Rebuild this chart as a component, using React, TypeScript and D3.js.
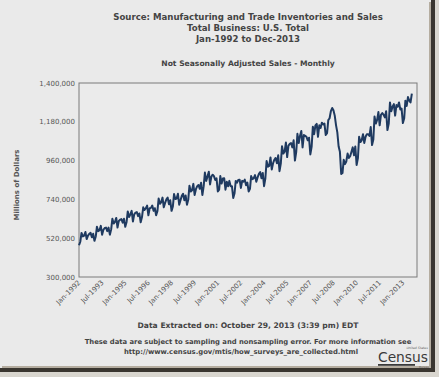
import React from "react";
import * as d3 from "d3";

// Total business sales, not seasonally adjusted, millions of dollars (Jan-1992 .. Aug-2013)
const sales1992 = [480000, 500000, 550000, 530000, 535000, 555000, 515000, 535000, 545000, 550000, 525000, 545000];
const sales1993 = [505000, 530000, 585000, 560000, 565000, 590000, 540000, 568000, 578000, 580000, 560000, 580000];
const sales1994 = [540000, 570000, 630000, 603000, 612000, 635000, 580000, 618000, 625000, 628000, 608000, 630000];
const sales1995 = [585000, 612000, 672000, 640000, 655000, 675000, 615000, 655000, 665000, 668000, 645000, 660000];
const sales1996 = [610000, 640000, 695000, 680000, 690000, 705000, 650000, 690000, 692000, 705000, 675000, 690000];
const sales1997 = [650000, 675000, 745000, 715000, 725000, 750000, 695000, 720000, 740000, 750000, 712000, 735000];
const sales1998 = [675000, 700000, 770000, 742000, 745000, 772000, 710000, 735000, 760000, 772000, 735000, 762000];
const sales1999 = [710000, 740000, 818000, 785000, 792000, 828000, 765000, 798000, 815000, 822000, 800000, 835000];
const sales2000 = [765000, 815000, 892000, 845000, 870000, 897000, 825000, 870000, 880000, 872000, 850000, 860000];
const sales2001 = [785000, 795000, 872000, 830000, 858000, 860000, 795000, 840000, 815000, 845000, 815000, 815000];
const sales2002 = [748000, 775000, 845000, 835000, 850000, 852000, 805000, 845000, 840000, 852000, 820000, 835000];
const sales2003 = [785000, 800000, 872000, 855000, 860000, 878000, 840000, 865000, 885000, 895000, 860000, 890000];
const sales2004 = [815000, 860000, 958000, 925000, 930000, 978000, 910000, 945000, 965000, 975000, 945000, 990000];
const sales2005 = [900000, 945000, 1042000, 1000000, 1010000, 1062000, 980000, 1045000, 1055000, 1060000, 1035000, 1075000];
const sales2006 = [960000, 1010000, 1112000, 1060000, 1100000, 1128000, 1035000, 1105000, 1100000, 1095000, 1075000, 1090000];
const sales2007 = [995000, 1040000, 1152000, 1110000, 1160000, 1168000, 1095000, 1160000, 1145000, 1175000, 1165000, 1170000];
const sales2008 = [1105000, 1115000, 1190000, 1200000, 1240000, 1258000, 1245000, 1215000, 1160000, 1120000, 1040000, 1010000];
const sales2009 = [884000, 890000, 965000, 940000, 955000, 1000000, 975000, 985000, 1010000, 1035000, 990000, 1040000];
const sales2010 = [935000, 975000, 1095000, 1065000, 1075000, 1110000, 1060000, 1095000, 1110000, 1110000, 1100000, 1150000];
const sales2011 = [1048000, 1080000, 1210000, 1170000, 1190000, 1235000, 1160000, 1220000, 1230000, 1220000, 1205000, 1240000];
const sales2012 = [1133000, 1170000, 1290000, 1240000, 1265000, 1280000, 1215000, 1275000, 1265000, 1290000, 1250000, 1255000];
const sales2013 = [1173000, 1200000, 1300000, 1270000, 1320000, 1300000, 1290000, 1340000];

const salesByYear: [number, number[]][] = [
  [1992, sales1992], [1993, sales1993], [1994, sales1994], [1995, sales1995],
  [1996, sales1996], [1997, sales1997], [1998, sales1998], [1999, sales1999],
  [2000, sales2000], [2001, sales2001], [2002, sales2002], [2003, sales2003],
  [2004, sales2004], [2005, sales2005], [2006, sales2006], [2007, sales2007],
  [2008, sales2008], [2009, sales2009], [2010, sales2010], [2011, sales2011],
  [2012, sales2012], [2013, sales2013],
];

const yTicks = [300000, 520000, 740000, 960000, 1180000, 1400000];
const xTickLabels = [
  "Jan-1992", "Jul-1993", "Jan-1995", "Jul-1996", "Jan-1998", "Jul-1999", "Jan-2001",
  "Jul-2002", "Jan-2004", "Jul-2005", "Jan-2007", "Jul-2008", "Jan-2010", "Jul-2011", "Jan-2013",
];

const titleLines = [
  "Source: Manufacturing and Trade Inventories and Sales",
  "Total Business: U.S. Total",
  "Jan-1992 to Dec-2013",
];
const subtitle = "Not Seasonally Adjusted Sales - Monthly";
const yAxisTitle = "Millions of Dollars";
const extracted = "Data Extracted on: October 29, 2013 (3:39 pm) EDT";
const noteLines = [
  "These data are subject to sampling and nonsampling error. For more information see",
  "http://www.census.gov/mtis/how_surveys_are_collected.html",
];

const FONT = "'DejaVu Sans', Verdana, sans-serif";

export default function App() {
  const data = salesByYear.flatMap(([yr, vals]) =>
    vals.map((v, i) => ({ date: new Date(yr, i, 1), value: v }))
  );

  const left = 79, right = 417, top = 83, bottom = 277;
  const x = d3.scaleTime().domain([new Date(1992, 0, 1), new Date(2013, 11, 1)]).range([left, right]);
  const y = d3.scaleLinear().domain([300000, 1400000]).range([bottom, top]);
  const line = d3.line<{ date: Date; value: number }>().x(d => x(d.date)).y(d => y(d.value));
  const fmt = d3.format(",");
  const monthIdx: Record<string, number> = { Jan: 0, Jul: 6 };

  return (
    <svg width={439} height={377} style={{ position: "absolute", left: 0, top: 0 }} fontFamily={FONT}>
      <rect x={0} y={0} width={439} height={377} fill="#d9d6cf" />
      <rect x={0} y={0} width={431} height={368} fill="#eaeaea" />
      {/* shadow frame */}
      <rect x={431} y={0} width={4} height={372} fill="#3a3630" />
      <rect x={0} y={368} width={435} height={4} fill="#3a3630" />
      <rect x={429} y={2} width={2} height={366} fill="#b5ada0" />
      <rect x={2} y={366} width={429} height={2} fill="#b5ada0" />

      {titleLines.map((t, i) => (
        <text key={i} x={248} y={20 + i * 11} textAnchor="middle" fontSize={8.6} fontWeight="bold" fill="#444">{t}</text>
      ))}
      <text x={248} y={66} textAnchor="middle" fontSize={7.6} fontWeight="bold" fill="#444">{subtitle}</text>

      <rect x={left} y={top} width={right - left} height={bottom - top} fill="#ebebeb" stroke="#7a7a7a" strokeWidth={1} />

      {yTicks.map(v => (
        <text key={v} x={75} y={y(v) + 2.5} textAnchor="end" fontSize={7} fill="#555">{fmt(v)}</text>
      ))}
      <text transform={`translate(19,185) rotate(-90)`} textAnchor="middle" fontSize={7} fontWeight="bold" fill="#555">{yAxisTitle}</text>

      {xTickLabels.map(lbl => {
        const [m, yr] = lbl.split("-");
        const px = x(new Date(+yr, monthIdx[m], 1));
        return (
          <text key={lbl} transform={`translate(${px + 2},${bottom + 6}) rotate(-45)`} textAnchor="end" fontSize={7} fill="#555">{lbl}</text>
        );
      })}

      <path d={line(data) || ""} fill="none" stroke="#1f3a60" strokeWidth={2} strokeLinejoin="round" />

      <text x={248} y={328} textAnchor="middle" fontSize={7.6} fontWeight="bold" fill="#444">{extracted}</text>
      <text x={248} y={344} textAnchor="middle" fontSize={6.8} fontWeight="bold" fill="#444">{noteLines[0]}</text>
      <text x={241} y={354} textAnchor="middle" fontSize={6.85} fontWeight="bold" fill="#444">{noteLines[1]}</text>

      {/* Census logo */}
      <text x={428} y={348.6} textAnchor="end" fontSize={3.2} fontStyle="italic" fill="#666">United States</text>
      <text x={428} y={362} textAnchor="end" fontSize={14} fontFamily="'DejaVu Sans Condensed', 'Liberation Sans Narrow', sans-serif" fill="#3a3a3a" textLength={50} lengthAdjust="spacingAndGlyphs">Census</text>
      <rect x={378} y={364} width={37} height={1.8} fill="#3a3a3a" />
      <text x={429} y={368} textAnchor="end" fontSize={2.8} fill="#666">Bureau</text>
    </svg>
  );
}
